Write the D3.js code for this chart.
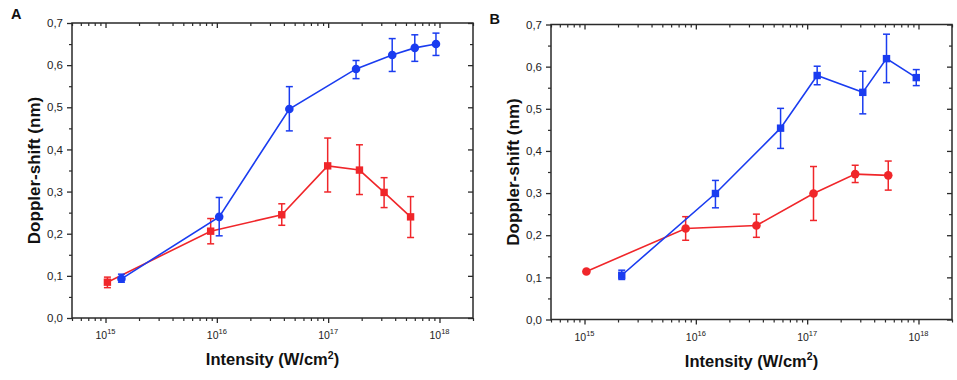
<!DOCTYPE html>
<html>
<head>
<meta charset="utf-8">
<script src="https://cdn.jsdelivr.net/npm/d3@7"></script>
<style>
  body { margin: 0; background: #fff; }
  svg { display: block; font-family: "Liberation Sans", Arial, sans-serif; }
</style>
</head>
<body>
<svg id="chart" width="957" height="380"></svg>
<script>
// ---- Data ----
// Panel A
const aBlueX   = [1.39e15, 1.05e16, 4.48e16, 1.78e17, 3.76e17, 6.0e17, 9.3e17];
const aBlueY   = [0.093, 0.240, 0.496, 0.591, 0.624, 0.641, 0.650];
const aBlueLo  = [0.085, 0.195, 0.444, 0.568, 0.585, 0.609, 0.623];
const aBlueHi  = [0.104, 0.286, 0.549, 0.611, 0.663, 0.672, 0.676];

const aRedX    = [1.04e15, 8.8e15, 3.83e16, 9.9e16, 1.91e17, 3.18e17, 5.5e17];
const aRedY    = [0.085, 0.206, 0.245, 0.361, 0.351, 0.298, 0.240];
const aRedLo   = [0.072, 0.176, 0.220, 0.299, 0.293, 0.262, 0.191];
const aRedHi   = [0.097, 0.236, 0.271, 0.427, 0.411, 0.333, 0.288];

// Panel B
const bBlueX   = [2.16e15, 1.5e16, 5.77e16, 1.23e17, 3.16e17, 5.16e17, 9.55e17];
const bBlueY   = [0.105, 0.299, 0.454, 0.579, 0.539, 0.619, 0.574];
const bBlueLo  = [0.095, 0.265, 0.406, 0.557, 0.488, 0.562, 0.555];
const bBlueHi  = [0.117, 0.330, 0.501, 0.601, 0.589, 0.677, 0.593];

const bRedX    = [1.04e15, 8.1e15, 3.5e16, 1.14e17, 2.7e17, 5.35e17];
const bRedY    = [0.114, 0.216, 0.223, 0.299, 0.345, 0.342];
const bRedLo   = [0.110, 0.188, 0.195, 0.235, 0.325, 0.307];
const bRedHi   = [0.118, 0.244, 0.250, 0.363, 0.366, 0.376];

const xDomain = [5e14, 2e18];
const yDomain = [0, 0.7];
const xTickVals = [1e15, 1e16, 1e17, 1e18];
const xTickExps = ["15", "16", "17", "18"];
const yTickVals = [0, 0.1, 0.2, 0.3, 0.4, 0.5, 0.6, 0.7];
const yTickLabels = ["0,0", "0,1", "0,2", "0,3", "0,4", "0,5", "0,6", "0,7"];
const panelLetters = ["A", "B"];
const xTitle = "Intensity (W/cm";
const yTitle = "Doppler-shift (nm)";

const BLUE = "#1a3cf0";
const RED = "#f0262a";
const AXIS = "#2a2a2a";

const svg = d3.select("#chart");

const panels = [
  { letter: panelLetters[0], box: {l: 72, t: 23, r: 473, b: 318}, letterPos: [11, 18.5],
    series: [
      {x: aRedX, y: aRedY, lo: aRedLo, hi: aRedHi, color: RED, shape: "square"},
      {x: aBlueX, y: aBlueY, lo: aBlueLo, hi: aBlueHi, color: BLUE, shape: "circle"}
    ]},
  { letter: panelLetters[1], box: {l: 551, t: 24.5, r: 952, b: 319.5}, letterPos: [489.5, 23.5],
    series: [
      {x: bRedX, y: bRedY, lo: bRedLo, hi: bRedHi, color: RED, shape: "circle"},
      {x: bBlueX, y: bBlueY, lo: bBlueLo, hi: bBlueHi, color: BLUE, shape: "square"}
    ]}
];

// minor log ticks
const minorX = [];
for (let e = 14; e <= 18; e++) {
  for (let m = 2; m <= 9; m++) {
    const v = m * Math.pow(10, e);
    if (v >= xDomain[0] && v <= xDomain[1]) minorX.push(v);
  }
}
const minorY = d3.range(0.05, 0.7, 0.1);

panels.forEach(p => {
  const {l, t, r, b} = p.box;
  const x = d3.scaleLog().domain(xDomain).range([l, r]);
  const y = d3.scaleLinear().domain(yDomain).range([b, t]);
  const g = svg.append("g");

  // Frame
  g.append("rect").attr("x", l).attr("y", t).attr("width", r - l).attr("height", b - t)
    .attr("fill", "none").attr("stroke", AXIS).attr("stroke-width", 1.5);

  // Bottom axis (outward ticks)
  const bottom = g.append("g").attr("transform", `translate(0,${b})`)
    .call(d3.axisBottom(x).tickValues(xTickVals).tickSize(5).tickFormat(""));
  bottom.select(".domain").remove();
  bottom.selectAll("line").attr("stroke", AXIS).attr("stroke-width", 1.3);
  const bottomMinor = g.append("g").attr("transform", `translate(0,${b})`)
    .call(d3.axisBottom(x).tickValues(minorX).tickSize(3).tickFormat(""));
  bottomMinor.select(".domain").remove();
  bottomMinor.selectAll("line").attr("stroke", AXIS).attr("stroke-width", 1.2);

  // Top axis (inward ticks)
  const top = g.append("g").attr("transform", `translate(0,${t})`)
    .call(d3.axisBottom(x).tickValues(xTickVals).tickSize(5).tickFormat(""));
  top.select(".domain").remove();
  top.selectAll("line").attr("stroke", AXIS).attr("stroke-width", 1.3);
  const topMinor = g.append("g").attr("transform", `translate(0,${t})`)
    .call(d3.axisBottom(x).tickValues(minorX).tickSize(3).tickFormat(""));
  topMinor.select(".domain").remove();
  topMinor.selectAll("line").attr("stroke", AXIS).attr("stroke-width", 1.2);

  // Bottom tick labels 10^n
  xTickVals.forEach((v, i) => {
    const txt = g.append("text").attr("x", x(v)).attr("y", b + 21)
      .attr("text-anchor", "middle").attr("font-size", 10.5).attr("fill", "#222");
    txt.append("tspan").text("10");
    txt.append("tspan").attr("dy", -5).attr("font-size", 7.5).text(xTickExps[i]);
  });

  // Left axis (outward ticks)
  const left = g.append("g").attr("transform", `translate(${l},0)`)
    .call(d3.axisLeft(y).tickValues(yTickVals).tickSize(5).tickPadding(4)
      .tickFormat((d, i) => yTickLabels[i]));
  left.select(".domain").remove();
  left.selectAll("line").attr("stroke", AXIS).attr("stroke-width", 1.3);
  left.selectAll("text").attr("font-size", 11.5).attr("fill", "#222")
    .attr("font-family", "Liberation Sans, Arial, sans-serif");
  const leftMinor = g.append("g").attr("transform", `translate(${l},0)`)
    .call(d3.axisLeft(y).tickValues(minorY).tickSize(3).tickFormat(""));
  leftMinor.select(".domain").remove();
  leftMinor.selectAll("line").attr("stroke", AXIS).attr("stroke-width", 1.2);

  // Right axis (inward ticks)
  const right = g.append("g").attr("transform", `translate(${r},0)`)
    .call(d3.axisRight(y).tickValues(yTickVals).tickSize(-5).tickFormat(""));
  right.select(".domain").remove();
  right.selectAll("line").attr("stroke", AXIS).attr("stroke-width", 1.3);
  const rightMinor = g.append("g").attr("transform", `translate(${r},0)`)
    .call(d3.axisRight(y).tickValues(minorY).tickSize(-3).tickFormat(""));
  rightMinor.select(".domain").remove();
  rightMinor.selectAll("line").attr("stroke", AXIS).attr("stroke-width", 1.2);

  // Axis titles
  const xt = g.append("text").attr("x", (l + r) / 2).attr("y", b + 47)
    .attr("text-anchor", "middle").attr("font-size", 16.5).attr("font-weight", "bold").attr("fill", "#111");
  xt.append("tspan").text(xTitle);
  xt.append("tspan").attr("dy", -6.5).attr("font-size", 10.5).text("2");
  xt.append("tspan").attr("dy", 6.5).text(")");

  g.append("text")
    .attr("transform", `translate(${l - 32},${(t + b) / 2}) rotate(-90)`)
    .attr("text-anchor", "middle").attr("font-size", 17).attr("font-weight", "bold").attr("fill", "#111")
    .text(yTitle);

  // Panel letter
  g.append("text").attr("x", p.letterPos[0]).attr("y", p.letterPos[1])
    .attr("font-size", 14.5).attr("font-weight", "bold").attr("fill", "#111").text(p.letter);

  // Series
  p.series.forEach(s => {
    const pts = s.x.map((xv, i) => ({x: xv, y: s.y[i], lo: s.lo[i], hi: s.hi[i]}));
    const line = d3.line().x(d => x(d.x)).y(d => y(d.y));
    g.append("path").datum(pts).attr("d", line)
      .attr("fill", "none").attr("stroke", s.color).attr("stroke-width", 1.6);

    const eb = g.append("g").attr("stroke", s.color).attr("stroke-width", 1.5);
    pts.forEach(d => {
      eb.append("line").attr("x1", x(d.x)).attr("x2", x(d.x)).attr("y1", y(d.lo)).attr("y2", y(d.hi));
      eb.append("line").attr("x1", x(d.x) - 3.5).attr("x2", x(d.x) + 3.5).attr("y1", y(d.lo)).attr("y2", y(d.lo));
      eb.append("line").attr("x1", x(d.x) - 3.5).attr("x2", x(d.x) + 3.5).attr("y1", y(d.hi)).attr("y2", y(d.hi));
    });

    if (s.shape === "circle") {
      g.selectAll(null).data(pts).enter().append("circle")
        .attr("cx", d => x(d.x)).attr("cy", d => y(d.y)).attr("r", 4.3)
        .attr("fill", s.color);
    } else {
      g.selectAll(null).data(pts).enter().append("rect")
        .attr("x", d => x(d.x) - 3.7).attr("y", d => y(d.y) - 3.7)
        .attr("width", 7.4).attr("height", 7.4).attr("fill", s.color);
    }
  });
});
</script>
</body>
</html>
